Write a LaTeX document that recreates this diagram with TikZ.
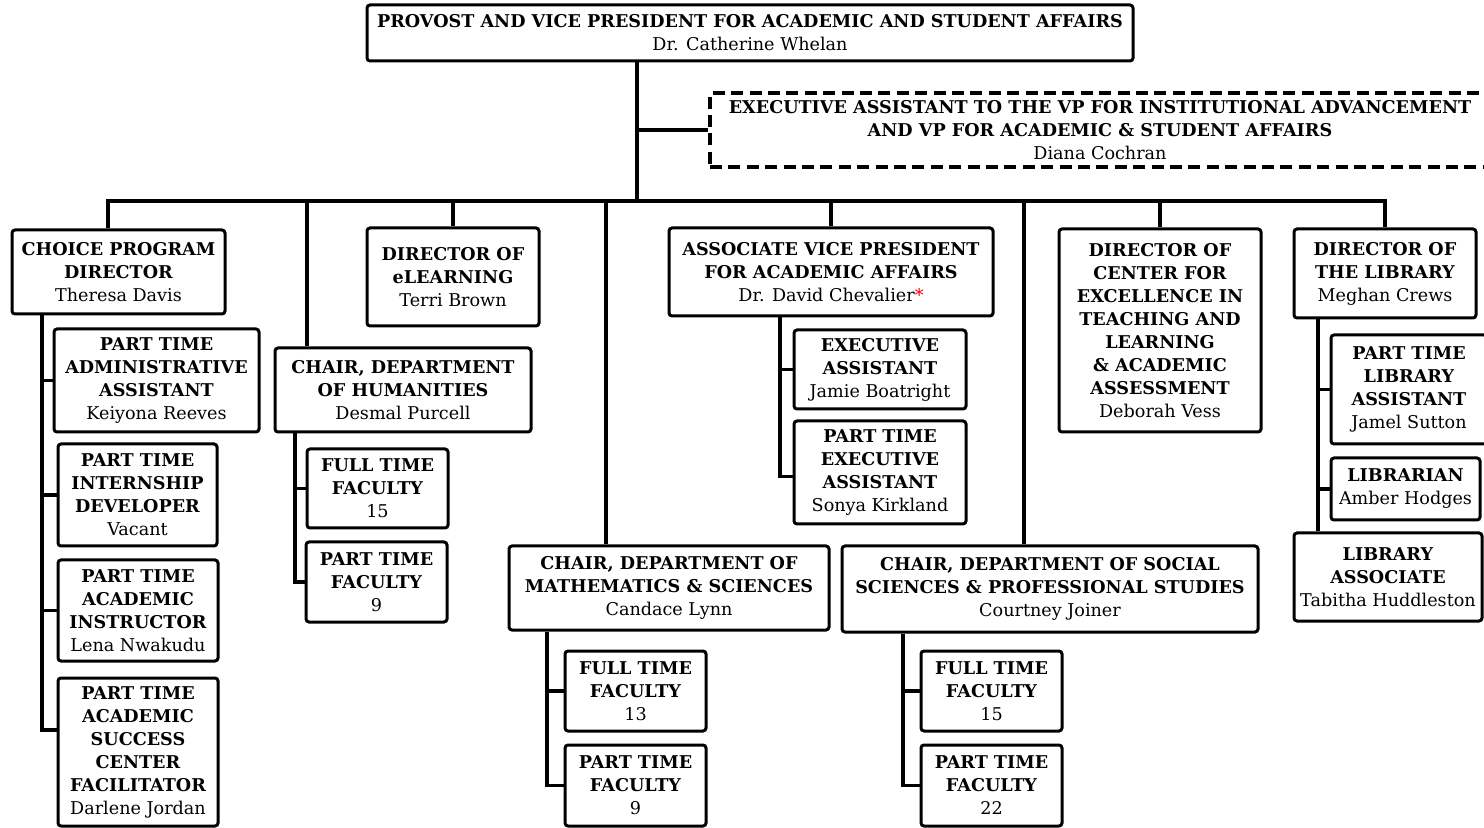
\documentclass[tikz,border=0pt]{standalone}
\usepackage{fontspec}
\setmainfont{DejaVu Serif}
\usepackage{xcolor}
\usepackage{tikz}

\tikzset{
  box/.style={draw, line width=1.5pt, rounded corners=1.5pt, align=center, inner sep=0pt,
    font=\fontsize{8.8}{11.5}\selectfont},
  dashbox/.style={box, rounded corners=0pt, line width=1.7pt, dash pattern=on 6pt off 3.2pt},
  link/.style={line width=1.6pt},
}

\begin{document}
\begin{tikzpicture}[x=0.5pt, y=-0.5pt]
    \useasboundingbox (0,0) rectangle (1484,828);

    % top of the chart
    \node[box, minimum width=383pt, minimum height=28pt] (provost) at (750,33)
        {\textbf{PROVOST AND VICE PRESIDENT FOR ACADEMIC AND STUDENT AFFAIRS}\\Dr. Catherine Whelan};
    \node[dashbox, minimum width=390pt, minimum height=37pt] (execvp) at (1100,130)
        {\textbf{EXECUTIVE ASSISTANT TO THE VP FOR INSTITUTIONAL ADVANCEMENT}\\\textbf{AND VP FOR ACADEMIC \& STUDENT AFFAIRS}\\Diana Cochran};

    % second row
    \node[box, minimum width=106.5pt, minimum height=42pt] (choice) at (118.5,272)
        {\textbf{CHOICE PROGRAM}\\\textbf{DIRECTOR}\\Theresa Davis};
    \node[box, minimum width=86pt, minimum height=49pt] (elearn) at (453,277)
        {\textbf{DIRECTOR OF}\\\textbf{eLEARNING}\\Terri Brown};
    \node[box, minimum width=128pt, minimum height=42pt] (human) at (403,390)
        {\textbf{CHAIR, DEPARTMENT}\\\textbf{OF HUMANITIES}\\Desmal Purcell};
    \node[box, minimum width=162pt, minimum height=44pt] (avp) at (831,272)
        {\textbf{ASSOCIATE VICE PRESIDENT}\\\textbf{FOR ACADEMIC AFFAIRS}\\Dr. David Chevalier{\color{red}*}};
    \node[box, minimum width=101pt, minimum height=101.5pt] (cetl) at (1160,330.5)
        {\textbf{DIRECTOR OF}\\\textbf{CENTER FOR}\\\textbf{EXCELLENCE IN}\\\textbf{TEACHING AND}\\\textbf{LEARNING}\\\textbf{\& ACADEMIC}\\\textbf{ASSESSMENT}\\Deborah Vess};
    \node[box, minimum width=91pt, minimum height=44.5pt] (libdir) at (1385,273.5)
        {\textbf{DIRECTOR OF}\\\textbf{THE LIBRARY}\\Meghan Crews};
    \node[box, minimum width=160pt, minimum height=42pt] (math) at (669,588)
        {\textbf{CHAIR, DEPARTMENT OF}\\\textbf{MATHEMATICS \& SCIENCES}\\Candace Lynn};
    \node[box, minimum width=208pt, minimum height=43pt] (social) at (1050,589)
        {\textbf{CHAIR, DEPARTMENT OF SOCIAL}\\\textbf{SCIENCES \& PROFESSIONAL STUDIES}\\Courtney Joiner};

    % under choice program
    \node[box, minimum width=102.5pt, minimum height=51.5pt] (ptadmin) at (156.5,380.5)
        {\textbf{PART TIME}\\\textbf{ADMINISTRATIVE}\\\textbf{ASSISTANT}\\Keiyona Reeves};
    \node[box, minimum width=79.5pt, minimum height=51pt] (ptintern) at (137.5,495)
        {\textbf{PART TIME}\\\textbf{INTERNSHIP}\\\textbf{DEVELOPER}\\Vacant};
    \node[box, minimum width=80pt, minimum height=50.5pt] (ptinstr) at (138,610.5)
        {\textbf{PART TIME}\\\textbf{ACADEMIC}\\\textbf{INSTRUCTOR}\\Lena Nwakudu};
    \node[box, minimum width=80pt, minimum height=74pt] (ptsuccess) at (138,752)
        {\textbf{PART TIME}\\\textbf{ACADEMIC}\\\textbf{SUCCESS}\\\textbf{CENTER}\\\textbf{FACILITATOR}\\Darlene Jordan};

    % faculty boxes
    \node[box, minimum width=70.5pt, minimum height=39.5pt] (humft) at (377.5,488.5)
        {\textbf{FULL TIME}\\\textbf{FACULTY}\\15};
    \node[box, minimum width=70.5pt, minimum height=40pt] (humpt) at (376.5,582)
        {\textbf{PART TIME}\\\textbf{FACULTY}\\9};
    \node[box, minimum width=70.5pt, minimum height=40pt] (mathft) at (635.5,691)
        {\textbf{FULL TIME}\\\textbf{FACULTY}\\13};
    \node[box, minimum width=70.5pt, minimum height=40.5pt] (mathpt) at (635.5,785.5)
        {\textbf{PART TIME}\\\textbf{FACULTY}\\9};
    \node[box, minimum width=70.5pt, minimum height=40pt] (socft) at (991.5,691)
        {\textbf{FULL TIME}\\\textbf{FACULTY}\\15};
    \node[box, minimum width=70.5pt, minimum height=40.5pt] (socpt) at (991.5,785.5)
        {\textbf{PART TIME}\\\textbf{FACULTY}\\22};

    % under the associate vp
    \node[box, minimum width=86pt, minimum height=39.5pt] (execasst) at (880,369.5)
        {\textbf{EXECUTIVE}\\\textbf{ASSISTANT}\\Jamie Boatright};
    \node[box, minimum width=86pt, minimum height=51.5pt] (ptexec) at (880,472.5)
        {\textbf{PART TIME}\\\textbf{EXECUTIVE}\\\textbf{ASSISTANT}\\Sonya Kirkland};

    % library
    \node[box, minimum width=78pt, minimum height=54.5pt] (ptlib) at (1409,389.5)
        {\textbf{PART TIME}\\\textbf{LIBRARY}\\\textbf{ASSISTANT}\\Jamel Sutton};
    \node[box, minimum width=74.5pt, minimum height=31pt] (librarian) at (1405.5,489)
        {\textbf{LIBRARIAN}\\Amber Hodges};
    \node[box, minimum width=94pt, minimum height=44pt] (libassoc) at (1388,577)
        {\textbf{LIBRARY}\\\textbf{ASSOCIATE}\\Tabitha Huddleston};

    % connector lines
    \coordinate (bus) at (637,201);
    \coordinate (cd) at (108,0); \coordinate (hd) at (307,0);
    \coordinate (md) at (606,0); \coordinate (sd) at (1024,0);
    \coordinate (cv) at (42,0); \coordinate (hv) at (295,0); \coordinate (av) at (780,0);
    \coordinate (mv) at (547,0); \coordinate (sv) at (903,0); \coordinate (lv) at (1318,0);

    \draw[link] (bus |- provost.south) -- (bus);
    \draw[link] (bus |- execvp.west) -- (execvp.west);
    \draw[link] (cd |- choice.north) -- (cd |- bus) -- (bus -| libdir.north) -- (libdir.north);
    \draw[link] (hd |- bus) -- (hd |- human.north);
    \draw[link] (md |- bus) -- (md |- math.north);
    \draw[link] (sd |- bus) -- (sd |- social.north);
    \foreach \n in {elearn, avp, cetl}
        \draw[link] (bus -| \n.north) -- (\n.north);

    \draw[link] (cv |- choice.south) |- ([yshift=11pt]ptsuccess.west);
    \foreach \n in {ptadmin, ptintern, ptinstr}
        \draw[link] (cv |- \n.west) -- (\n.west);
    \draw[link] (hv |- human.south) |- (humpt.west);
    \draw[link] (hv |- humft.west) -- (humft.west);
    \draw[link] (av |- avp.south) |- ([yshift=-2pt]ptexec.west);
    \draw[link] (av |- execasst.west) -- (execasst.west);
    \draw[link] (mv |- math.south) |- (mathpt.west);
    \draw[link] (mv |- mathft.west) -- (mathft.west);
    \draw[link] (sv |- social.south) |- (socpt.west);
    \draw[link] (sv |- socft.west) -- (socft.west);
    \draw[link] (lv |- libdir.south) -- (lv |- libassoc.north);
    \foreach \n in {ptlib, librarian}
        \draw[link] (lv |- \n.west) -- (\n.west);
\end{tikzpicture}
\end{document}
